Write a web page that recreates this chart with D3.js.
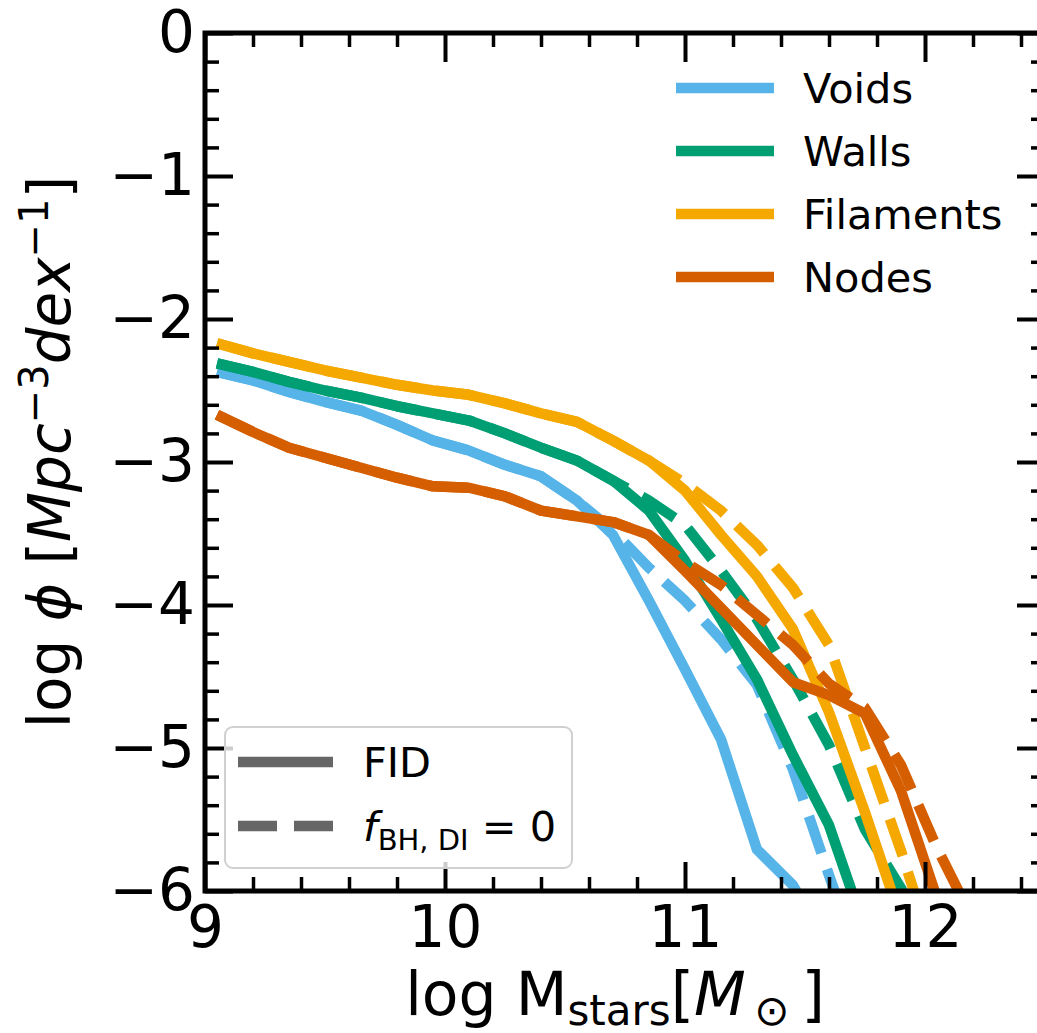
<!DOCTYPE html>
<html>
<head>
<meta charset="utf-8">
<script src="https://cdn.jsdelivr.net/npm/d3@7"></script>
<style>
  html, body { margin: 0; padding: 0; background: #fff; }
  svg { display: block; font-family: "DejaVu Sans", sans-serif; }
</style>
</head>
<body>
<svg id="chart" width="1037" height="1033"></svg>
<script>
// ---- data ----
const xBins = [9.05, 9.2, 9.35, 9.5, 9.65, 9.8, 9.95, 10.1, 10.25, 10.4, 10.55, 10.7, 10.85, 11.0, 11.15, 11.3, 11.45, 11.6, 11.75, 11.9, 12.05, 12.2];

const voidsFid   = [-2.37,-2.43,-2.51,-2.58,-2.64,-2.74,-2.85,-2.92,-3.02,-3.10,-3.27,-3.51,-3.97,-4.45,-4.94,-5.71,-5.96,-6.40];
const voidsDI    = [-2.37,-2.43,-2.51,-2.58,-2.64,-2.74,-2.85,-2.92,-3.02,-3.10,-3.27,-3.48,-3.74,-3.97,-4.24,-4.56,-5.15,-5.89,-6.60];
const wallsFid   = [-2.31,-2.37,-2.44,-2.50,-2.55,-2.61,-2.66,-2.71,-2.80,-2.90,-2.99,-3.13,-3.34,-3.69,-4.10,-4.52,-5.05,-5.54,-6.27];
const wallsDI    = [-2.31,-2.37,-2.44,-2.50,-2.55,-2.61,-2.66,-2.71,-2.80,-2.90,-2.99,-3.13,-3.27,-3.44,-3.76,-4.10,-4.52,-4.98,-5.57,-5.98,-6.50];
const filFid     = [-2.17,-2.24,-2.30,-2.36,-2.41,-2.46,-2.50,-2.53,-2.59,-2.66,-2.72,-2.85,-2.99,-3.20,-3.51,-3.80,-4.17,-4.75,-5.45,-6.20];
const filDI      = [-2.17,-2.24,-2.30,-2.36,-2.41,-2.46,-2.50,-2.53,-2.59,-2.66,-2.72,-2.85,-2.99,-3.15,-3.34,-3.58,-3.88,-4.28,-5.00,-5.72,-6.50];
const nodesFid   = [-2.67,-2.79,-2.90,-2.97,-3.04,-3.11,-3.17,-3.18,-3.24,-3.34,-3.38,-3.42,-3.51,-3.76,-4.02,-4.28,-4.54,-4.63,-4.76,-5.30,-6.05];
const nodesDI    = [-2.67,-2.79,-2.90,-2.97,-3.04,-3.11,-3.17,-3.18,-3.24,-3.34,-3.38,-3.42,-3.51,-3.70,-3.86,-4.07,-4.28,-4.55,-4.72,-5.12,-5.70,-6.20];

const envNames  = ["Voids", "Walls", "Filaments", "Nodes"];
const envColors = ["#56B4E9", "#009E73", "#F4A800", "#D55E00"];
const fidSeries = [voidsFid, wallsFid, filFid, nodesFid];
const diSeries  = [voidsDI, wallsDI, filDI, nodesDI];

const xMajorTicks = [9, 10, 11, 12];
const yMajorTicks = [0, -1, -2, -3, -4, -5, -6];
const xDomain = [9, 12.5];
const yDomain = [-6, 0];

// ---- layout ----
const L = 205, R = 1045, T = 33, B = 891;
const svg = d3.select("#chart");
const x = d3.scaleLinear().domain(xDomain).range([L, R]);
const y = d3.scaleLinear().domain(yDomain).range([B, T]);

const xMinor = d3.range(9, 12.5001, 0.2).map(v => +v.toFixed(2)).filter(v => !xMajorTicks.includes(v));
const yMinor = d3.range(-6, 0.0001, 0.2).map(v => +v.toFixed(2)).filter(v => !yMajorTicks.includes(v));

svg.append("defs").append("clipPath").attr("id", "clip")
  .append("rect").attr("x", L).attr("y", T).attr("width", R - L).attr("height", B - T);

// ---- lines ----
const line = d3.line().x(d => x(d[0])).y(d => y(d[1]));
const plot = svg.append("g").attr("clip-path", "url(#clip)");
for (let i = 0; i < 4; i++) {
  const fid = fidSeries[i].map((v, k) => [xBins[k], v]);
  const di  = diSeries[i].map((v, k) => [xBins[k], v]);
  plot.append("path").attr("d", line(fid)).attr("fill", "none")
    .attr("stroke", envColors[i]).attr("stroke-width", 10.5)
    .attr("stroke-linejoin", "round").attr("stroke-linecap", "butt");
  plot.append("path").attr("d", line(di)).attr("fill", "none")
    .attr("stroke", envColors[i]).attr("stroke-width", 10.5)
    .attr("stroke-dasharray", "39,17")
    .attr("stroke-linejoin", "round").attr("stroke-linecap", "butt");
}

// ---- axes (ticks inward on all sides) ----
const tickFont = 58;
function styleAxis(g, w) {
  g.select(".domain").remove();
  g.selectAll(".tick line").attr("stroke", "#000").attr("stroke-width", w);
  g.selectAll(".tick text").attr("font-size", tickFont).attr("fill", "#000")
    .attr("font-family", "DejaVu Sans");
}
// bottom
svg.append("g").attr("transform", `translate(0,${B})`)
  .call(d3.axisBottom(x).tickValues(xMajorTicks).tickSize(-29).tickPadding(15).tickFormat(d3.format("d")))
  .call(g => styleAxis(g, 4));
svg.append("g").attr("transform", `translate(0,${B})`)
  .call(d3.axisBottom(x).tickValues(xMinor).tickSize(-14).tickFormat(""))
  .call(g => styleAxis(g, 3.5));
// top
svg.append("g").attr("transform", `translate(0,${T})`)
  .call(d3.axisTop(x).tickValues(xMajorTicks).tickSize(-29).tickFormat(""))
  .call(g => styleAxis(g, 4));
svg.append("g").attr("transform", `translate(0,${T})`)
  .call(d3.axisTop(x).tickValues(xMinor).tickSize(-14).tickFormat(""))
  .call(g => styleAxis(g, 3.5));
// left
svg.append("g").attr("transform", `translate(${L},0)`)
  .call(d3.axisLeft(y).tickValues(yMajorTicks).tickSize(-28).tickPadding(10).tickFormat(d3.format("d")))
  .call(g => styleAxis(g, 4));
svg.append("g").attr("transform", `translate(${L},0)`)
  .call(d3.axisLeft(y).tickValues(yMinor).tickSize(-14).tickFormat(""))
  .call(g => styleAxis(g, 3.5));
// right
svg.append("g").attr("transform", `translate(${R},0)`)
  .call(d3.axisRight(y).tickValues(yMajorTicks).tickSize(-28).tickFormat(""))
  .call(g => styleAxis(g, 4));
svg.append("g").attr("transform", `translate(${R},0)`)
  .call(d3.axisRight(y).tickValues(yMinor).tickSize(-14).tickFormat(""))
  .call(g => styleAxis(g, 3.5));

// frame
svg.append("rect").attr("x", L).attr("y", T).attr("width", R - L).attr("height", B - T)
  .attr("fill", "none").attr("stroke", "#000").attr("stroke-width", 5);

// ---- axis labels ----
const xl = svg.append("text").attr("x", 615).attr("y", 1015).attr("text-anchor", "middle")
  .attr("font-size", 60).attr("fill", "#000");
xl.append("tspan").text("log M");
xl.append("tspan").attr("font-size", 42).attr("dy", 10).text("stars");
xl.append("tspan").attr("dy", -10).text("[");
xl.append("tspan").attr("font-style", "italic").text("M");
xl.append("tspan").attr("font-size", 42).attr("dy", 10).text("\u2009\u2299");
xl.append("tspan").attr("dy", -10).text("\u2009]");

const yl = svg.append("text").attr("transform", "translate(70,452) rotate(-90)")
  .attr("text-anchor", "middle").attr("font-size", 58).attr("fill", "#000");
yl.append("tspan").text("log ");
yl.append("tspan").attr("font-style", "italic").text("\u03D5");
yl.append("tspan").text(" [");
yl.append("tspan").attr("font-style", "italic").text("Mpc");
yl.append("tspan").attr("font-size", 40).attr("dy", -22).text("\u22123");
yl.append("tspan").attr("font-style", "italic").attr("dy", 22).text("dex");
yl.append("tspan").attr("font-size", 40).attr("dy", -22).text("\u22121");
yl.append("tspan").attr("dy", 22).text("]");

// ---- legend 1 (environments) ----
const leg1 = svg.append("g");
envNames.forEach((name, i) => {
  const ly = 88 + i * 63;
  leg1.append("line").attr("x1", 676).attr("x2", 774).attr("y1", ly).attr("y2", ly)
    .attr("stroke", envColors[i]).attr("stroke-width", 10.5);
  leg1.append("text").attr("x", 803).attr("y", ly).attr("dy", "0.36em")
    .attr("font-size", 41.5).attr("fill", "#000").text(name);
});

// ---- legend 2 (model) ----
const leg2 = svg.append("g");
leg2.append("rect").attr("x", 225).attr("y", 727).attr("width", 347).attr("height", 141)
  .attr("rx", 8).attr("fill", "#fff").attr("fill-opacity", 0.8)
  .attr("stroke", "#d0d0d0").attr("stroke-width", 2);
leg2.append("line").attr("x1", 238).attr("x2", 333).attr("y1", 762).attr("y2", 762)
  .attr("stroke", "#666").attr("stroke-width", 10.5);
leg2.append("line").attr("x1", 238).attr("x2", 333).attr("y1", 826).attr("y2", 826)
  .attr("stroke", "#666").attr("stroke-width", 10.5).attr("stroke-dasharray", "39,17");
leg2.append("text").attr("x", 363).attr("y", 762).attr("dy", "0.36em")
  .attr("font-size", 41.5).attr("fill", "#000").text("FID");
const t2 = leg2.append("text").attr("x", 363).attr("y", 826).attr("dy", "0.36em")
  .attr("font-size", 41.5).attr("fill", "#000");
t2.append("tspan").attr("font-style", "italic").text("f");
t2.append("tspan").attr("font-size", 29).attr("dy", 9).text("BH, DI");
t2.append("tspan").attr("dy", -9).text(" = 0");
</script>
</body>
</html>
